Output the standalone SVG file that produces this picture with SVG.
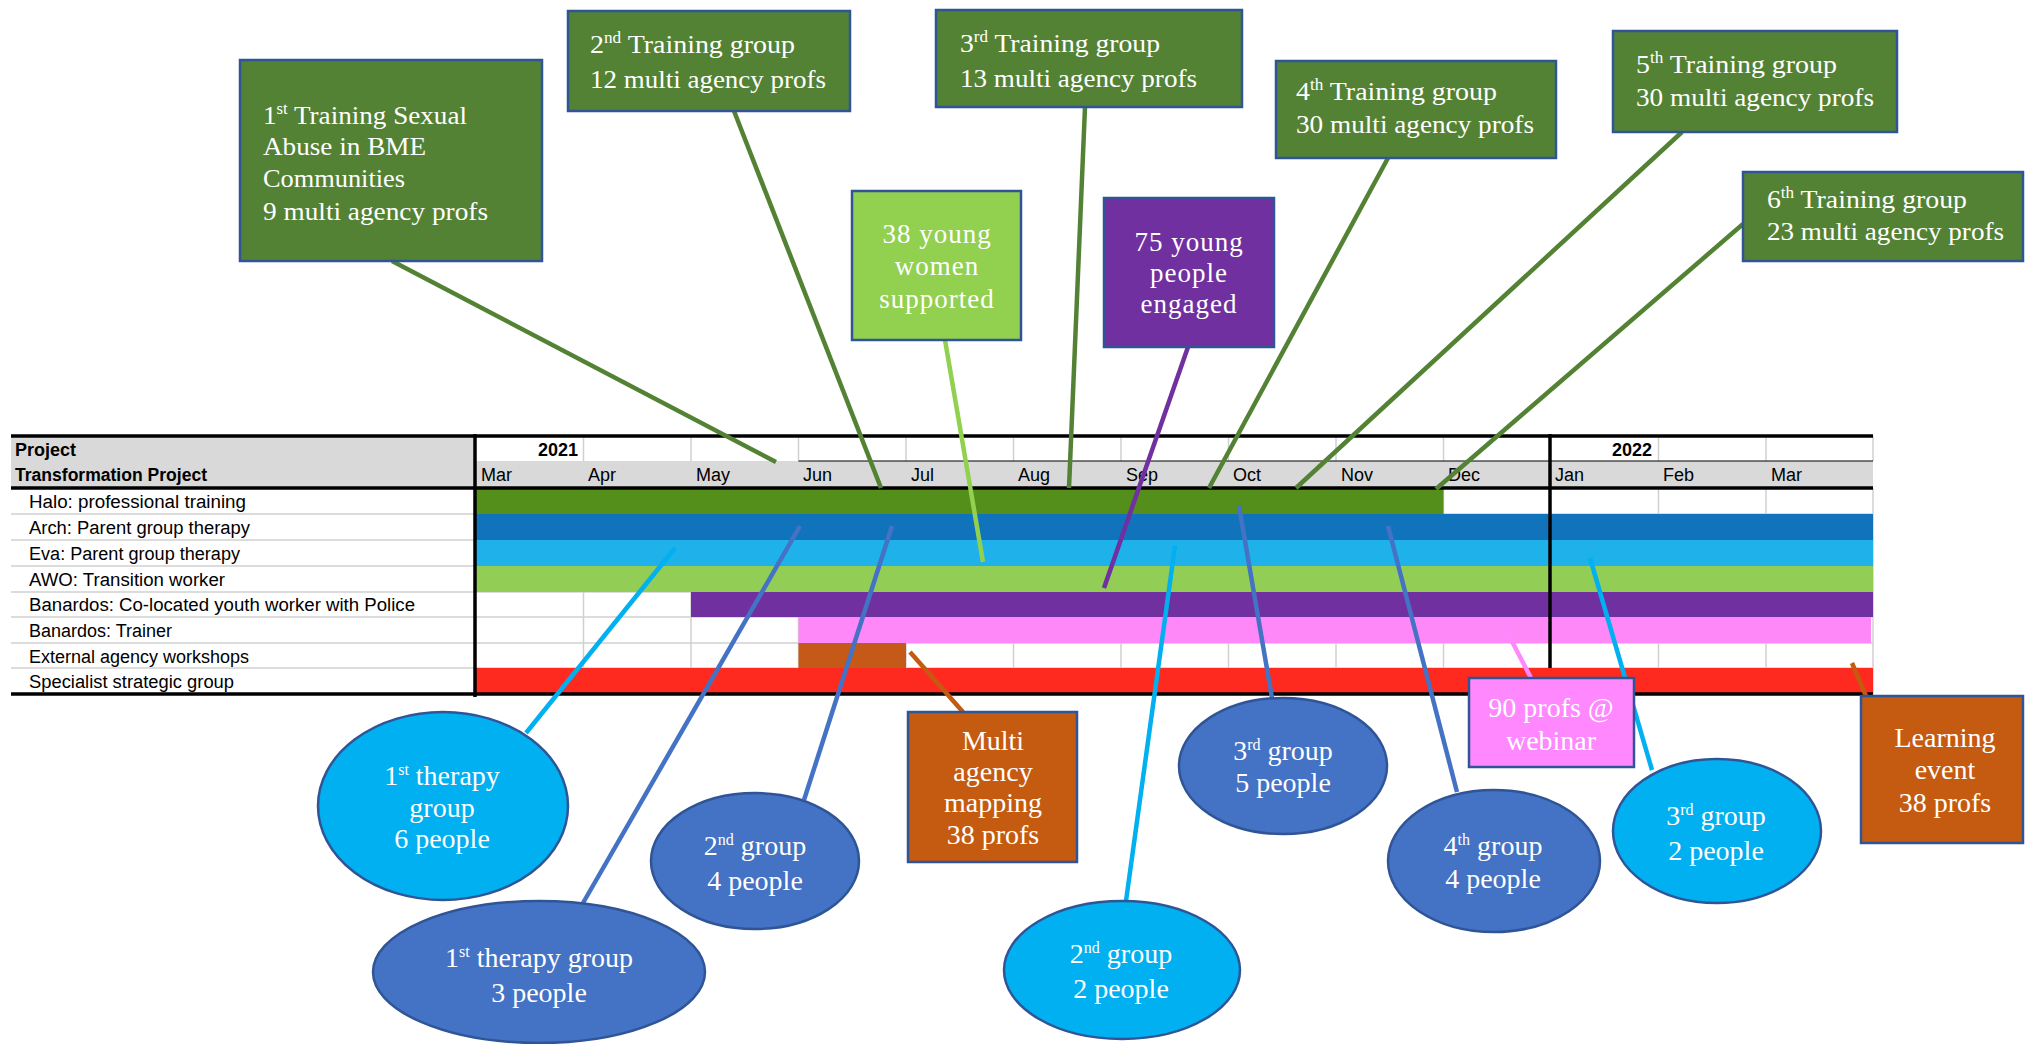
<svg xmlns="http://www.w3.org/2000/svg" width="2025" height="1044" viewBox="0 0 2025 1044">
<style>
.lbl{font-family:"Liberation Sans",Arial,sans-serif;font-size:18px;fill:#000}
.b{font-weight:bold}
.grid{stroke:#d0d0d0;stroke-width:1.5}
.thick{stroke:#000;stroke-width:3.5}
.box{stroke:#2f5597;stroke-width:2.5}
.t{font-family:"Liberation Serif","Times New Roman",serif;font-size:26px;fill:#fff}
.tc{font-family:"Liberation Serif","Times New Roman",serif;font-size:28px;fill:#fff;text-anchor:middle}
.sup{font-size:16px}
.con{stroke-width:4.5;fill:none}
</style>
<rect width="2025" height="1044" fill="#fff"/>
<g id="table">
  <rect x="11" y="436" width="464" height="52" fill="#d9d9d9"/>
  <rect x="476" y="461" width="1397" height="27" fill="#d9d9d9"/>
  <g class="grid">
    <line x1="583.5" y1="436" x2="583.5" y2="461"/><line x1="691" y1="436" x2="691" y2="461"/><line x1="798.5" y1="436" x2="798.5" y2="461"/><line x1="906" y1="436" x2="906" y2="461"/><line x1="1013.5" y1="436" x2="1013.5" y2="461"/><line x1="1121" y1="436" x2="1121" y2="461"/><line x1="1228.5" y1="436" x2="1228.5" y2="461"/><line x1="1336" y1="436" x2="1336" y2="461"/><line x1="1443.5" y1="436" x2="1443.5" y2="461"/><line x1="1658.5" y1="436" x2="1658.5" y2="461"/><line x1="1766" y1="436" x2="1766" y2="461"/><line x1="1873" y1="436" x2="1873" y2="461"/>
    <line x1="583.5" y1="488" x2="583.5" y2="694"/><line x1="691" y1="488" x2="691" y2="694"/><line x1="798.5" y1="488" x2="798.5" y2="694"/><line x1="906" y1="488" x2="906" y2="694"/><line x1="1013.5" y1="488" x2="1013.5" y2="694"/><line x1="1121" y1="488" x2="1121" y2="694"/><line x1="1228.5" y1="488" x2="1228.5" y2="694"/><line x1="1336" y1="488" x2="1336" y2="694"/><line x1="1443.5" y1="488" x2="1443.5" y2="694"/><line x1="1658.5" y1="488" x2="1658.5" y2="694"/><line x1="1766" y1="488" x2="1766" y2="694"/><line x1="1873" y1="488" x2="1873" y2="694"/>
    <line x1="11" y1="514" x2="1873" y2="514"/><line x1="11" y1="540" x2="1873" y2="540"/><line x1="11" y1="566" x2="1873" y2="566"/><line x1="11" y1="592" x2="1873" y2="592"/><line x1="11" y1="617" x2="1873" y2="617"/><line x1="11" y1="643" x2="1873" y2="643"/><line x1="11" y1="668" x2="1873" y2="668"/>
  </g>
  <line x1="798.5" y1="461" x2="1873" y2="461" stroke="#000" stroke-width="1.2"/>
  <rect x="476" y="488" width="967.5" height="26" fill="#548e1b"/>
  <rect x="476" y="514" width="1397" height="26" fill="#1273bd"/>
  <rect x="476" y="540" width="1397" height="26" fill="#1fb1ea"/>
  <rect x="476" y="566" width="1397" height="26" fill="#92ce55"/>
  <rect x="691" y="592" width="1182" height="25" fill="#7030a0"/>
  <rect x="798.5" y="617" width="1072.5" height="26" fill="#ff88f8"/>
  <rect x="798.5" y="643" width="107.5" height="25" fill="#c55a18"/>
  <rect x="476" y="668" width="1397" height="26" fill="#ff2a1f"/>
  <line x1="11" y1="436" x2="1873" y2="436" class="thick"/>
  <line x1="11" y1="488" x2="1873" y2="488" class="thick"/>
  <line x1="11" y1="694" x2="1873" y2="694" class="thick"/>
  <line x1="475" y1="434" x2="475" y2="697" class="thick"/>
  <line x1="1550" y1="434" x2="1550" y2="668" class="thick"/>
  <text class="lbl b" x="15" y="456" textLength="61" lengthAdjust="spacingAndGlyphs">Project</text>
  <text class="lbl b" x="15" y="481" textLength="192" lengthAdjust="spacingAndGlyphs">Transformation Project</text>
  <text class="lbl b" x="578" y="456" text-anchor="end">2021</text>
  <text class="lbl b" x="1652" y="456" text-anchor="end">2022</text>
  <text class="lbl" x="481" y="481">Mar</text><text class="lbl" x="588" y="481">Apr</text><text class="lbl" x="696" y="481">May</text><text class="lbl" x="803" y="481">Jun</text><text class="lbl" x="911" y="481">Jul</text><text class="lbl" x="1018" y="481">Aug</text><text class="lbl" x="1126" y="481">Sep</text><text class="lbl" x="1233" y="481">Oct</text><text class="lbl" x="1341" y="481">Nov</text><text class="lbl" x="1448" y="481">Dec</text><text class="lbl" x="1555" y="481">Jan</text><text class="lbl" x="1663" y="481">Feb</text><text class="lbl" x="1771" y="481">Mar</text>
  <text class="lbl" x="29" y="508" textLength="217" lengthAdjust="spacingAndGlyphs">Halo: professional training</text>
  <text class="lbl" x="29" y="534" textLength="221" lengthAdjust="spacingAndGlyphs">Arch: Parent group therapy</text>
  <text class="lbl" x="29" y="560" textLength="211" lengthAdjust="spacingAndGlyphs">Eva: Parent group therapy</text>
  <text class="lbl" x="29" y="586" textLength="196" lengthAdjust="spacingAndGlyphs">AWO: Transition worker</text>
  <text class="lbl" x="29" y="611" textLength="386" lengthAdjust="spacingAndGlyphs">Banardos: Co-located youth worker with Police</text>
  <text class="lbl" x="29" y="637" textLength="143" lengthAdjust="spacingAndGlyphs">Banardos: Trainer</text>
  <text class="lbl" x="29" y="663" textLength="220" lengthAdjust="spacingAndGlyphs">External agency workshops</text>
  <text class="lbl" x="29" y="688" textLength="205" lengthAdjust="spacingAndGlyphs">Specialist strategic group</text>
</g>
<g id="connectors">
  <line class="con" stroke="#548235" x1="392" y1="261" x2="776" y2="462"/>
  <line class="con" stroke="#548235" x1="734" y1="111" x2="881" y2="488"/>
  <line class="con" stroke="#548235" x1="1085" y1="107" x2="1069" y2="488"/>
  <line class="con" stroke="#548235" x1="1388" y1="158" x2="1209" y2="488"/>
  <line class="con" stroke="#548235" x1="1682" y1="132" x2="1296" y2="488"/>
  <line class="con" stroke="#548235" x1="1743" y1="224" x2="1436" y2="489"/>
  <line class="con" stroke="#92d050" x1="945" y1="340" x2="983" y2="562"/>
  <line class="con" stroke="#7030a0" x1="1188" y1="347" x2="1104" y2="588"/>
  <line class="con" stroke="#00b0f0" x1="526" y1="733" x2="675" y2="548"/>
  <line class="con" stroke="#4472c4" x1="583" y1="903" x2="800" y2="526"/>
  <line class="con" stroke="#4472c4" x1="804" y1="800" x2="892" y2="526"/>
  <line class="con" stroke="#c55a11" x1="963" y1="712" x2="910" y2="652"/>
  <line class="con" stroke="#00b0f0" x1="1126" y1="901" x2="1175" y2="546"/>
  <line class="con" stroke="#4472c4" x1="1272" y1="698" x2="1239" y2="506"/>
  <line class="con" stroke="#ff88ff" x1="1531" y1="678" x2="1505" y2="628"/>
  <line class="con" stroke="#4472c4" x1="1457" y1="792" x2="1388" y2="526"/>
  <line class="con" stroke="#00b0f0" x1="1652" y1="770" x2="1590" y2="558"/>
  <line class="con" stroke="#c55a11" x1="1866" y1="696" x2="1852" y2="663"/>
</g>
<g id="training1">
  <rect class="box" x="240" y="60" width="302" height="201" fill="#548235"/>
  <text class="t" x="263" y="124" textLength="204" lengthAdjust="spacingAndGlyphs">1<tspan class="sup" dy="-10">st</tspan><tspan dy="10"> Training Sexual</tspan></text>
  <text class="t" x="263" y="155" textLength="163" lengthAdjust="spacingAndGlyphs">Abuse in BME</text>
  <text class="t" x="263" y="187" textLength="142" lengthAdjust="spacingAndGlyphs">Communities</text>
  <text class="t" x="263" y="220" textLength="225" lengthAdjust="spacingAndGlyphs">9 multi agency profs</text>
</g>
<g id="training2">
  <rect class="box" x="568" y="11" width="282" height="100" fill="#548235"/>
  <text class="t" x="590" y="53" textLength="205" lengthAdjust="spacingAndGlyphs">2<tspan class="sup" dy="-10">nd</tspan><tspan dy="10"> Training group</tspan></text>
  <text class="t" x="590" y="88" textLength="236" lengthAdjust="spacingAndGlyphs">12 multi agency profs</text>
</g>
<g id="training3">
  <rect class="box" x="936" y="10" width="306" height="97" fill="#548235"/>
  <text class="t" x="960" y="52" textLength="200" lengthAdjust="spacingAndGlyphs">3<tspan class="sup" dy="-10">rd</tspan><tspan dy="10"> Training group</tspan></text>
  <text class="t" x="960" y="87" textLength="237" lengthAdjust="spacingAndGlyphs">13 multi agency profs</text>
</g>
<g id="training4">
  <rect class="box" x="1276" y="61" width="280" height="97" fill="#548235"/>
  <text class="t" x="1296" y="100" textLength="201" lengthAdjust="spacingAndGlyphs">4<tspan class="sup" dy="-10">th</tspan><tspan dy="10"> Training group</tspan></text>
  <text class="t" x="1296" y="133" textLength="238" lengthAdjust="spacingAndGlyphs">30 multi agency profs</text>
</g>
<g id="training5">
  <rect class="box" x="1613" y="31" width="284" height="101" fill="#548235"/>
  <text class="t" x="1636" y="73" textLength="201" lengthAdjust="spacingAndGlyphs">5<tspan class="sup" dy="-10">th</tspan><tspan dy="10"> Training group</tspan></text>
  <text class="t" x="1636" y="106" textLength="238" lengthAdjust="spacingAndGlyphs">30 multi agency profs</text>
</g>
<g id="training6">
  <rect class="box" x="1743" y="172" width="280" height="89" fill="#548235"/>
  <text class="t" x="1767" y="208" textLength="200" lengthAdjust="spacingAndGlyphs">6<tspan class="sup" dy="-10">th</tspan><tspan dy="10"> Training group</tspan></text>
  <text class="t" x="1767" y="240" textLength="237" lengthAdjust="spacingAndGlyphs">23 multi agency profs</text>
</g>
<g id="youngWomen">
  <rect class="box" x="852" y="191" width="169" height="149" fill="#92d050"/>
  <text class="tc" x="937" y="243" style="font-size:27px;letter-spacing:1px">38 young</text>
  <text class="tc" x="937" y="275" style="font-size:27px;letter-spacing:1px">women</text>
  <text class="tc" x="937" y="308" style="font-size:27px;letter-spacing:1px">supported</text>
</g>
<g id="youngPeople">
  <rect class="box" x="1104" y="198" width="170" height="149" fill="#7030a0"/>
  <text class="tc" x="1189" y="251" style="font-size:27px;letter-spacing:1px">75 young</text>
  <text class="tc" x="1189" y="282" style="font-size:27px;letter-spacing:1px">people</text>
  <text class="tc" x="1189" y="313" style="font-size:27px;letter-spacing:1px">engaged</text>
</g>
<g id="eva1">
  <ellipse class="box" cx="443" cy="806" rx="125" ry="94" fill="#00b0f0"/>
  <text class="tc" x="442" y="785">1<tspan class="sup" dy="-10">st</tspan><tspan dy="10"> therapy</tspan></text>
  <text class="tc" x="442" y="817">group</text>
  <text class="tc" x="442" y="848">6 people</text>
</g>
<g id="arch1">
  <ellipse class="box" cx="539" cy="972" rx="166" ry="71" fill="#4472c4"/>
  <text class="tc" x="539" y="967">1<tspan class="sup" dy="-10">st</tspan><tspan dy="10"> therapy group</tspan></text>
  <text class="tc" x="539" y="1002">3 people</text>
</g>
<g id="arch2">
  <ellipse class="box" cx="755" cy="861" rx="104" ry="68" fill="#4472c4"/>
  <text class="tc" x="755" y="855">2<tspan class="sup" dy="-10">nd</tspan><tspan dy="10"> group</tspan></text>
  <text class="tc" x="755" y="890">4 people</text>
</g>
<g id="mapping">
  <rect class="box" x="908" y="712" width="169" height="150" fill="#c55a11"/>
  <text class="tc" x="993" y="750">Multi</text>
  <text class="tc" x="993" y="781">agency</text>
  <text class="tc" x="993" y="812">mapping</text>
  <text class="tc" x="993" y="844">38 profs</text>
</g>
<g id="eva2">
  <ellipse class="box" cx="1122" cy="970" rx="118" ry="69" fill="#00b0f0"/>
  <text class="tc" x="1121" y="963">2<tspan class="sup" dy="-10">nd</tspan><tspan dy="10"> group</tspan></text>
  <text class="tc" x="1121" y="998">2 people</text>
</g>
<g id="arch3">
  <ellipse class="box" cx="1283" cy="766" rx="104" ry="68" fill="#4472c4"/>
  <text class="tc" x="1283" y="760">3<tspan class="sup" dy="-10">rd</tspan><tspan dy="10"> group</tspan></text>
  <text class="tc" x="1283" y="792">5 people</text>
</g>
<g id="webinar">
  <rect class="box" x="1469" y="678" width="165" height="89" fill="#ff88ff"/>
  <text class="tc" x="1551" y="717">90 profs @</text>
  <text class="tc" x="1551" y="750">webinar</text>
</g>
<g id="arch4">
  <ellipse class="box" cx="1494" cy="861" rx="106" ry="71" fill="#4472c4"/>
  <text class="tc" x="1493" y="855">4<tspan class="sup" dy="-10">th</tspan><tspan dy="10"> group</tspan></text>
  <text class="tc" x="1493" y="888">4 people</text>
</g>
<g id="eva3">
  <ellipse class="box" cx="1717" cy="831" rx="104" ry="72" fill="#00b0f0"/>
  <text class="tc" x="1716" y="825">3<tspan class="sup" dy="-10">rd</tspan><tspan dy="10"> group</tspan></text>
  <text class="tc" x="1716" y="860">2 people</text>
</g>
<g id="learning">
  <rect class="box" x="1861" y="696" width="162" height="147" fill="#c55a11"/>
  <text class="tc" x="1945" y="747">Learning</text>
  <text class="tc" x="1945" y="779">event</text>
  <text class="tc" x="1945" y="812">38 profs</text>
</g>
</svg>
